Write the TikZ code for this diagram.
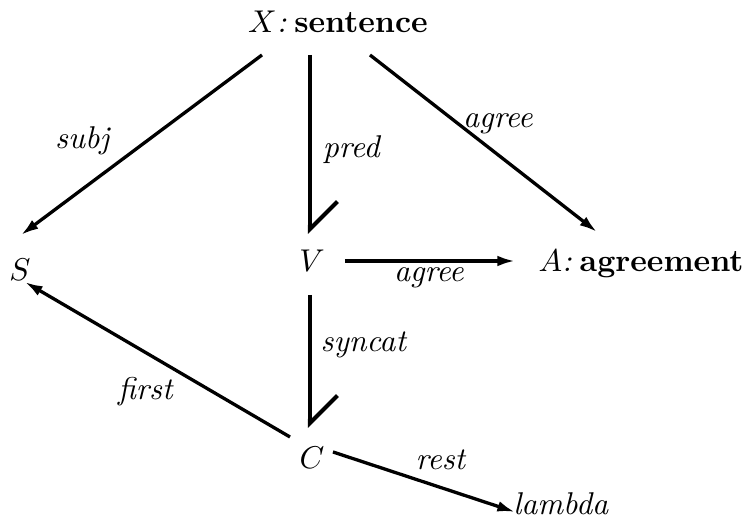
\documentclass[tikz,border=0pt]{standalone}
\usepackage{tikz}
\usetikzlibrary{arrows.meta, calc}

\begin{document}
\begin{tikzpicture}[x=0.3175pt, y=-0.3175pt,
    arr/.style={-{Latex[length=5.6pt, width=3.4pt]}, line width=1.05pt},
    barb/.style={-{Straight Barb[harpoon, length=8.7pt, angle'=90]}, line width=1.3pt},
    lbl/.style={anchor=base}]

\useasboundingbox (0,0) rectangle (748,529);

% ── Feature nodes ──────────────────────────────────────────────
\node[lbl] (X) at (338,33) {$X$\textit{:}\hspace{0.25em}\textbf{sentence}};
\node[lbl] (S) at (20,281) {$S$};
\node[lbl] (V) at (312,272) {$V$};
\node[lbl] (A) at (641,272) {$A$\textit{:}\hspace{0.25em}\textbf{agreement}};
\node[lbl] (C) at (312,469) {$C$};
\node[lbl] (L) at (561,515) {\textit{lambda}};

% ── Arcs ──────────────────────────────────────────────────────
\draw[arr]  ($(X.base)+(-76,22)$) -- ($(S.base)+(1,-46)$);
\draw[barb] ($(X.base)+(-28,22)$) -- ($(V.base)+(-2,-38)$);
\draw[arr]  ($(X.base)+(32,22)$) -- ($(A.base)+(-44,-40)$);
\draw[arr]  ($(V.base)+(33,-11)$) -- ($(A.base)+(-126,-11)$);
\draw[barb] ($(V.base)+(-2,23)$) -- ($(C.base)+(-2,-41)$);
\draw[arr]  ($(C.base)+(-22,-32)$) -- ($(S.base)+(5,1)$);
\draw[arr]  ($(C.base)+(21,-17)$) -- ($(L.base)+(-46,-3)$);

% ── Arc labels ────────────────────────────────────────────────
\node[lbl] (subj)    at (83,149)  {\textit{subj}};
\node[lbl] (pred)    at (352,158) {\textit{pred}};
\node[lbl] (agreeX)  at (498,128) {\textit{agree}};
\node[lbl] (agreeV)  at (429,282) {\textit{agree}};
\node[lbl] (syncat)  at (364,352) {\textit{syncat}};
\node[lbl] (first)   at (146,400) {\textit{first}};
\node[lbl] (rest)    at (441,470) {\textit{rest}};

\end{tikzpicture}
\end{document}
